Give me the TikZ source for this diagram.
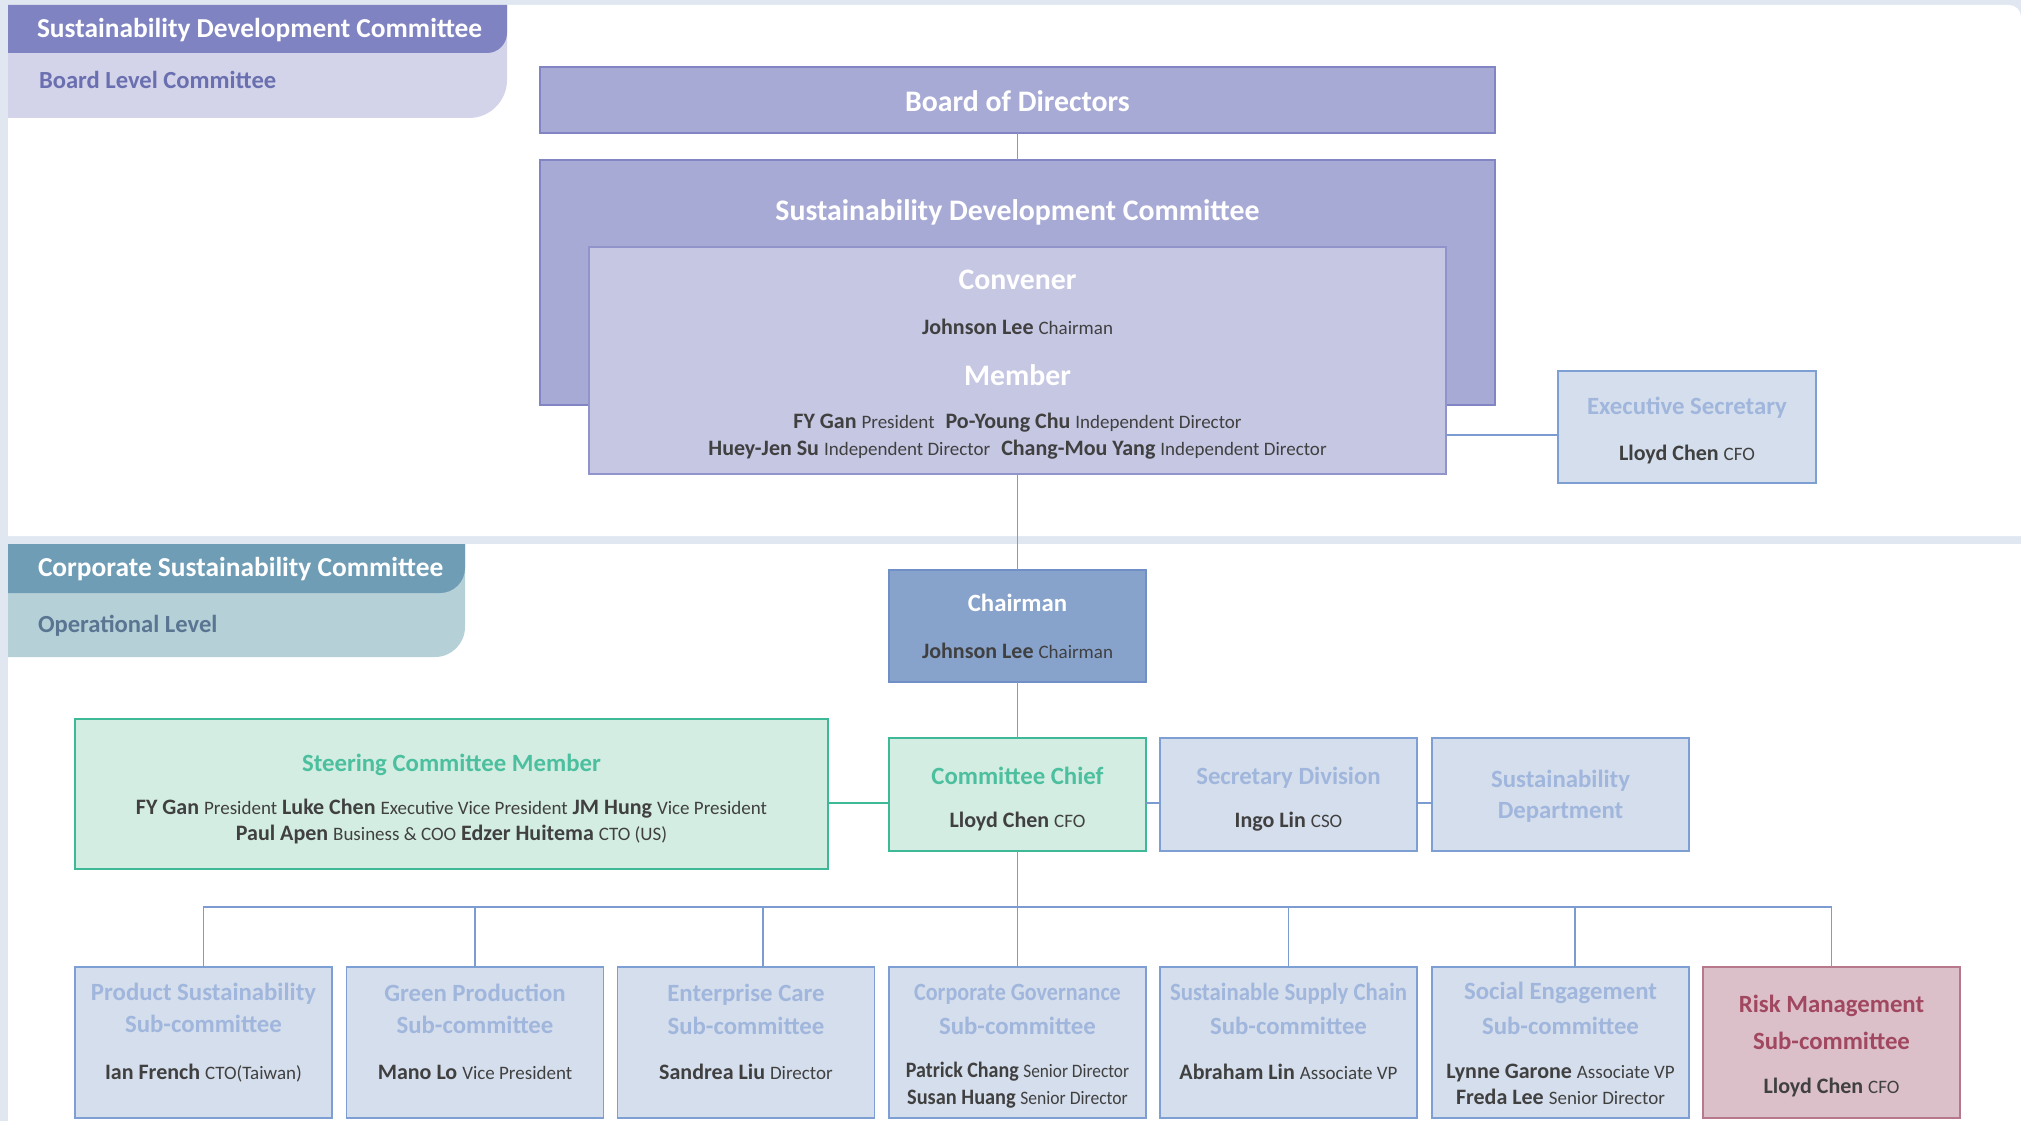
\documentclass[tikz,border=0pt]{standalone}
\usepackage{fontspec}
\usepackage{graphicx}
\setmainfont{Carlito}
\definecolor{bgStrip}{HTML}{E1E7F1}
\definecolor{tabPurple}{HTML}{7F83C1}
\definecolor{tabPurpleLight}{HTML}{D3D4EA}
\definecolor{tabPurpleText}{HTML}{6A6FB0}
\definecolor{boardFill}{HTML}{A8AAD6}
\definecolor{boardLine}{HTML}{8285C3}
\definecolor{innerFill}{HTML}{C5C7E3}
\definecolor{innerLine}{HTML}{9194CB}
\definecolor{subFill}{HTML}{D5DEEC}
\definecolor{subLine}{HTML}{7E9FD3}
\definecolor{subTitle}{HTML}{A0B6DC}
\definecolor{linkBlue}{HTML}{7B9BD1}
\definecolor{chairFill}{HTML}{87A3CC}
\definecolor{chairLine}{HTML}{6F8FC6}
\definecolor{greenFill}{HTML}{D3EDE2}
\definecolor{greenLine}{HTML}{3DB997}
\definecolor{greenTitle}{HTML}{4BBF9E}
\definecolor{riskFill}{HTML}{DBC0CA}
\definecolor{riskLine}{HTML}{B8788C}
\definecolor{riskTitle}{HTML}{A14760}
\definecolor{darkText}{HTML}{404040}
\definecolor{tealDark}{HTML}{6F9DB5}
\definecolor{tealLight}{HTML}{B6D0D8}
\definecolor{tealText}{HTML}{5A7591}
% person names (bold) and their roles (regular, smaller)
\newcommand\nm[1]{{\fontsize{22}{26}\selectfont\bfseries #1}}
\newcommand\rl[1]{{\fontsize{19}{26}\selectfont #1}}
\begin{document}
\begin{tikzpicture}[x=1pt,y=1pt,
  every node/.style={inner sep=0pt, outer sep=0pt},
  box/.style={rectangle, line width=1.6pt, minimum width=257, minimum height=113},
  bluebox/.style={box, draw=subLine, fill=subFill},
  greenbox/.style={box, draw=greenLine, fill=greenFill},
  riskbox/.style={box, draw=riskLine, fill=riskFill},
  link/.style={draw=linkBlue, line width=1.4pt},
  greenlink/.style={draw=greenLine, line width=1.4pt},
  bigttl/.style={anchor=base, yshift=-1.3, text=white, font=\fontsize{29.8}{36}\selectfont\bfseries},
  tabttl/.style={anchor=base west, text=white, font=\fontsize{27.4}{33}\selectfont\bfseries},
  tabsub/.style={anchor=base west, font=\fontsize{24.6}{30}\selectfont\bfseries},
  ttl/.style={anchor=base, yshift=-1.5, font=\fontsize{24.8}{30}\selectfont\bfseries},
  person/.style={anchor=base, yshift=-1.6, text=darkText, font=\fontsize{22}{26}\selectfont},
]
\useasboundingbox (0,0) rectangle (2021,-1121);

% page background and the two white panels
\fill[bgStrip] (0,0) rectangle (2021,-1121);
\fill[white] (8,-5) -- (2009,-5) arc[start angle=90,end angle=0,radius=12pt] -- (2021,-536) -- (8,-536) -- cycle;
\fill[white] (8,-544) rectangle (2021,-1121);

% level tabs
\fill[tabPurpleLight] (8,-5) -- (507,-5) -- (507,-80) arc[start angle=0,end angle=-90,radius=38pt] -- (8,-118) -- cycle;
\fill[tabPurple] (8,-5) -- (507,-5) -- (507,-33) arc[start angle=0,end angle=-90,radius=20pt] -- (8,-53) -- cycle;
\node[tabttl] (tab1a) at (37,-38) {Sustainability Development Committee};
\node[tabsub, text=tabPurpleText] (tab1b) at (39,-88.5) {Board Level Committee};

\fill[tealLight] (8,-544) -- (465,-544) -- (465,-627) arc[start angle=0,end angle=-90,radius=30pt] -- (8,-657) -- cycle;
\fill[tealDark] (8,-544) -- (465,-544) -- (465,-568) arc[start angle=0,end angle=-90,radius=25pt] -- (8,-593) -- cycle;
\node[tabttl] (tab2a) at (38,-576) {Corporate Sustainability Committee};
\node[tabsub, text=tealText] (tab2b) at (38,-632) {Operational Level};

% board level
\node[box, draw=boardLine, fill=boardFill, minimum width=955, minimum height=66] (board) at (1017.5,-100) {};
\node[box, draw=boardLine, fill=boardFill, minimum width=955, minimum height=245] (sdcout) at (1017.5,-282.5) {};
\node[box, draw=innerLine, fill=innerFill, minimum width=857, minimum height=227] (sdcin) at (1017.5,-360.5) {};
\node[bluebox, minimum width=258, minimum height=112] (exsec) at (1687,-427) {};

\node[bigttl] (t-board) at (1017.5,-110) {Board of Directors};
\node[bigttl] (t-sdc) at (1017.5,-219) {Sustainability Development Committee};
\node[bigttl] (t-conv) at (1017.5,-288) {Convener};
\node[person] (p-conv) at (1017.5,-333) {\nm{Johnson Lee} \rl{Chairman}};
\node[bigttl] (t-mem) at (1017.5,-384) {Member};
\node[person] (p-mem1) at (1017.5,-426.5) {\nm{FY Gan} \rl{President}\enspace\nm{Po-Young Chu} \rl{Independent Director}};
\node[person] (p-mem2) at (1017.5,-453.5) {\nm{Huey-Jen Su} \rl{Independent Director}\enspace\nm{Chang-Mou Yang} \rl{Independent Director}};
\node[ttl, text=subTitle] (t-exsec) at (1687,-413) {Executive Secretary};
\node[person] (p-exsec) at (1687,-459) {\nm{Lloyd Chen} \rl{CFO}};

\draw[link] (board.south) -- (sdcout.north);
\draw[link] ([yshift=-8]exsec.west) -- ([yshift=-8]exsec.west -| sdcin.east);

% operational level
\node[box, draw=chairLine, fill=chairFill, minimum height=112] (chair) at (1017.5,-626) {};
\node[greenbox] (chief) at (1017.5,-794.5) {};
\node[bluebox] (secdiv) at (1288.5,-794.5) {};
\node[bluebox] (dept) at (1560.5,-794.5) {};
\node[greenbox, minimum width=753, minimum height=150] (steer) at (451.5,-794) {};

\node[ttl, text=white] (t-chair) at (1017.5,-610) {Chairman};
\node[person] (p-chair) at (1017.5,-657) {\nm{Johnson Lee} \rl{Chairman}};
\node[ttl, text=greenTitle] (t-chief) at (1017.5,-783) {Committee Chief};
\node[person] (p-chief) at (1017.5,-826) {\nm{Lloyd Chen} \rl{CFO}};
\node[ttl, text=subTitle] (t-secdiv) at (1288.5,-783) {Secretary Division};
\node[person] (p-secdiv) at (1288.5,-826) {\nm{Ingo Lin} \rl{CSO}};
\node[ttl, text=subTitle] (t-dept1) at (1560.5,-786) {Sustainability};
\node[ttl, text=subTitle] (t-dept2) at (1560.5,-817) {Department};
\node[ttl, text=greenTitle] (t-steer) at (451.5,-769.5) {Steering Committee Member};
\node[person] (p-steer1) at (451.5,-812.5) {\nm{FY Gan} \rl{President} \nm{Luke Chen} \rl{Executive Vice President} \nm{JM Hung} \rl{Vice President}};
\node[person] (p-steer2) at (451.5,-839) {\nm{Paul Apen} \rl{Business \& COO} \nm{Edzer Huitema} \rl{CTO (US)}};

\draw[link] (sdcin.south) -- (chair.north);
\draw[link] (chair.south) -- (chief.north);
\draw[greenlink] ([yshift=-8.5]chief.west) -- ([yshift=-8.5]chief.west -| steer.east);
\draw[link] ([yshift=-8.5]chief.east) -- ([yshift=-8.5]chief.east -| secdiv.west);
\draw[link] ([yshift=-8.5]secdiv.east) -- ([yshift=-8.5]secdiv.east -| dept.west);

% sub-committees
\node[bluebox, minimum height=151] (sub1) at (203.5,-1042.5) {};
\node[bluebox, minimum height=151] (sub2) at (475,-1042.5) {};
\node[bluebox, minimum height=151] (sub3) at (746,-1042.5) {};
\node[bluebox, minimum height=151] (sub4) at (1017.5,-1042.5) {};
\node[bluebox, minimum height=151] (sub5) at (1288.5,-1042.5) {};
\node[bluebox, minimum height=151] (sub6) at (1560.5,-1042.5) {};
\node[riskbox, minimum height=151] (sub7) at (1831.5,-1042.5) {};

\coordinate (bus) at (0,-907);
\draw[link] (chief.south) -- (chief.south |- bus);
\draw[link] (sub1.north) -- (sub1.north |- bus) -- (sub7.north |- bus) -- (sub7.north);
\draw[link] (sub2.north) -- (sub2.north |- bus);
\draw[link] ([xshift=17]sub3.north) -- ([xshift=17]sub3.north |- bus);
\draw[link] (sub4.north) -- (sub4.north |- bus);
\draw[link] (sub5.north) -- (sub5.north |- bus);
\draw[link] ([xshift=14.5]sub6.north) -- ([xshift=14.5]sub6.north |- bus);

\node[ttl, text=subTitle] (t-sub1a) at (203.5,-999) {Product Sustainability};
\node[ttl, text=subTitle] (t-sub1b) at (203.5,-1031) {Sub-committee};
\node[person] (p-sub1) at (203.5,-1078) {\nm{Ian French} \rl{CTO(Taiwan)}};

\node[ttl, text=subTitle] (t-sub2a) at (475,-1000) {Green Production};
\node[ttl, text=subTitle] (t-sub2b) at (475,-1032) {Sub-committee};
\node[person] (p-sub2) at (475,-1078) {\nm{Mano Lo} \rl{Vice President}};

\node[ttl, text=subTitle] (t-sub3a) at (746,-1000) {Enterprise Care};
\node[ttl, text=subTitle] (t-sub3b) at (746,-1033) {Sub-committee};
\node[person] (p-sub3) at (746,-1078) {\nm{Sandrea Liu} \rl{Director}};

\node[ttl, text=subTitle] (t-sub4a) at (1017.5,-999) {\scalebox{0.89}[1]{Corporate Governance}};
\node[ttl, text=subTitle] (t-sub4b) at (1017.5,-1033) {Sub-committee};
\node[person] (p-sub4a) at (1017.5,-1076) {\scalebox{0.91}[1]{\nm{Patrick Chang} \rl{Senior Director}}};
\node[person] (p-sub4b) at (1017.5,-1103) {\scalebox{0.925}[1]{\nm{Susan Huang} \rl{Senior Director}}};

\node[ttl, text=subTitle] (t-sub5a) at (1288.5,-999) {\scalebox{0.92}[1]{Sustainable Supply Chain}};
\node[ttl, text=subTitle] (t-sub5b) at (1288.5,-1033) {Sub-committee};
\node[person] (p-sub5) at (1288.5,-1078) {\nm{Abraham Lin} \rl{Associate VP}};

\node[ttl, text=subTitle] (t-sub6a) at (1560.5,-998) {Social Engagement};
\node[ttl, text=subTitle] (t-sub6b) at (1560.5,-1033) {Sub-committee};
\node[person] (p-sub6a) at (1560.5,-1077) {\nm{Lynne Garone} \rl{Associate VP}};
\node[person] (p-sub6b) at (1560.5,-1103) {\nm{Freda Lee} \rl{Senior Director}};

\node[ttl, text=riskTitle] (t-sub7a) at (1831.5,-1011) {Risk Management};
\node[ttl, text=riskTitle] (t-sub7b) at (1831.5,-1048) {Sub-committee};
\node[person] (p-sub7) at (1831.5,-1092) {\nm{Lloyd Chen} \rl{CFO}};
\end{tikzpicture}
\end{document}
